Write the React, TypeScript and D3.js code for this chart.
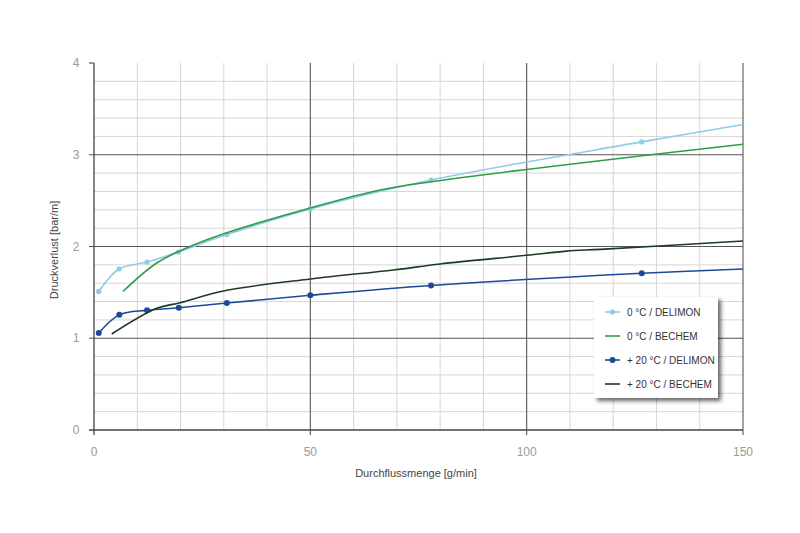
import { useEffect, useRef } from 'react';
import * as d3 from 'd3';

type Pt = [number, number];

// flow [g/min] vs pressure loss [bar/m]; last point of the DELIMON series has no marker
const delimon0: Pt[] = [
  [1.1, 1.51], [5.8, 1.755], [12.25, 1.83], [19.5, 1.94], [30.7, 2.13],
  [50, 2.41], [77.9, 2.725], [126.6, 3.14], [150, 3.33],
];
const bechem0: Pt[] = [
  [6.7, 1.51], [14.5, 1.82], [22.2, 2.0], [30.7, 2.15], [50, 2.42],
  [66.1, 2.615], [77.9, 2.705], [100, 2.84], [116.9, 2.935], [150, 3.115],
];
const delimon20: Pt[] = [
  [1.1, 1.057], [5.85, 1.255], [12.25, 1.304], [19.6, 1.333], [30.7, 1.384],
  [50, 1.468], [77.9, 1.575], [126.6, 1.708], [150, 1.755],
];
const bechem20: Pt[] = [
  [4.1, 1.046], [14.5, 1.326], [19.9, 1.387], [29.9, 1.515], [50, 1.646],
  [69.2, 1.744], [80, 1.81], [100, 1.904], [109.2, 1.95], [117, 1.969], [150, 2.06],
];
const legendLabels = ['0 °C / DELIMON', '0 °C / BECHEM', '+ 20 °C / DELIMON', '+ 20 °C / BECHEM'];
const xTicks = [0, 50, 100, 150];
const yTicks = [0, 1, 2, 3, 4];

const series = [
  { data: delimon0, color: '#8fcbe8', markers: true, r: 2.6 },
  { data: bechem0, color: '#2e9e46', markers: false, r: 0 },
  { data: delimon20, color: '#1b4b98', markers: true, r: 3 },
  { data: bechem20, color: '#1d3b1d', markers: false, r: 0 },
];

export default function App() {
  const svgRef = useRef<SVGSVGElement>(null);

  useEffect(() => {
    if (!svgRef.current) return;
    const svg = d3.select(svgRef.current);
    svg.selectAll('*').remove();
    const font = '"Liberation Sans", Arial, sans-serif';

    const x = d3.scaleLinear().domain([0, 150]).range([94, 743]);
    const y = d3.scaleLinear().domain([0, 4]).range([430, 63]);

    svg.append('rect').attr('width', 800).attr('height', 533).attr('fill', '#fff');

    const defs = svg.append('defs');
    defs.append('filter').attr('id', 'shadow').attr('x', '-10%').attr('y', '-10%')
      .attr('width', '130%').attr('height', '130%')
      .append('feDropShadow').attr('dx', 3).attr('dy', 3).attr('stdDeviation', 2.2)
      .attr('flood-color', '#000').attr('flood-opacity', 0.6);

    const grid = svg.append('g');
    // minor grid
    d3.range(10, 150, 10).filter(v => v % 50 !== 0).forEach(v => {
      grid.append('line').attr('x1', x(v)).attr('x2', x(v)).attr('y1', y(4)).attr('y2', y(0))
        .attr('stroke', '#d6d6d6').attr('stroke-width', 1);
    });
    d3.range(0.2, 4, 0.2).map(v => +v.toFixed(1)).filter(v => Math.abs(v - Math.round(v)) > 0.01).forEach(v => {
      grid.append('line').attr('x1', x(0)).attr('x2', x(150)).attr('y1', y(v)).attr('y2', y(v))
        .attr('stroke', '#d6d6d6').attr('stroke-width', 1);
    });
    // major grid
    [1, 2, 3].forEach(v => {
      grid.append('line').attr('x1', x(0) - 5).attr('x2', x(150)).attr('y1', y(v)).attr('y2', y(v))
        .attr('stroke', '#555').attr('stroke-width', 1.1);
    });
    [50, 100, 150].forEach(v => {
      grid.append('line').attr('x1', x(v)).attr('x2', x(v)).attr('y1', y(4)).attr('y2', y(0) + 5)
        .attr('stroke', '#555').attr('stroke-width', 1.1);
    });

    // axes
    svg.append('line').attr('x1', x(0)).attr('x2', x(0)).attr('y1', y(4)).attr('y2', y(0) + 5)
      .attr('stroke', '#444').attr('stroke-width', 1.3);
    svg.append('line').attr('x1', x(0) - 5).attr('x2', x(150)).attr('y1', y(0)).attr('y2', y(0))
      .attr('stroke', '#444').attr('stroke-width', 1.3);
    svg.append('line').attr('x1', x(0) - 5).attr('x2', x(0)).attr('y1', y(4)).attr('y2', y(4))
      .attr('stroke', '#444').attr('stroke-width', 1.1);

    svg.selectAll('.xt').data(xTicks).enter().append('text')
      .attr('x', d => x(d)).attr('y', 456).attr('text-anchor', 'middle')
      .attr('font-family', font).attr('font-size', 12).attr('fill', '#9a9a9a').text(d => d);
    svg.selectAll('.yt').data(yTicks).enter().append('text')
      .attr('x', 76).attr('y', d => y(d)).attr('dy', '0.35em').attr('text-anchor', 'middle')
      .attr('font-family', font).attr('font-size', 12).attr('fill', '#9a9a9a').text(d => d);

    svg.append('text').attr('x', 416).attr('y', 477).attr('text-anchor', 'middle')
      .attr('font-family', font).attr('font-size', 11).attr('fill', '#444')
      .text('Durchflussmenge [g/min]');
    svg.append('text').attr('transform', 'translate(58,250) rotate(-90)').attr('text-anchor', 'middle')
      .attr('font-family', font).attr('font-size', 11).attr('fill', '#444')
      .text('Druckverlust [bar/m]');

    const line = d3.line<Pt>().x(d => x(d[0])).y(d => y(d[1])).curve(d3.curveCatmullRom.alpha(0.5));
    series.forEach(s => {
      svg.append('path').attr('d', line(s.data) ?? '').attr('fill', 'none')
        .attr('stroke', s.color).attr('stroke-width', 1.6);
      if (s.markers) {
        svg.append('g').selectAll('circle').data(s.data.slice(0, -1)).enter().append('circle')
          .attr('cx', d => x(d[0])).attr('cy', d => y(d[1])).attr('r', s.r).attr('fill', s.color);
      }
    });

    // legend
    const lg = svg.append('g');
    lg.append('rect').attr('x', 594).attr('y', 297).attr('width', 124).attr('height', 101)
      .attr('fill', '#fff').attr('filter', 'url(#shadow)');
    series.forEach((s, i) => {
      const ly = 312 + i * 24;
      lg.append('line').attr('x1', 605).attr('x2', 620).attr('y1', ly).attr('y2', ly)
        .attr('stroke', s.color).attr('stroke-width', 1.6);
      if (s.markers) lg.append('circle').attr('cx', 612.5).attr('cy', ly).attr('r', s.r).attr('fill', s.color);
      lg.append('text').attr('x', 627).attr('y', ly).attr('dy', '0.35em')
        .attr('font-family', font).attr('font-size', 10).attr('fill', '#333').text(legendLabels[i]);
    });
  }, []);

  return (
    <svg ref={svgRef} width={800} height={533}
      style={{ position: 'absolute', left: 0, top: 0, display: 'block' }} />
  );
}
